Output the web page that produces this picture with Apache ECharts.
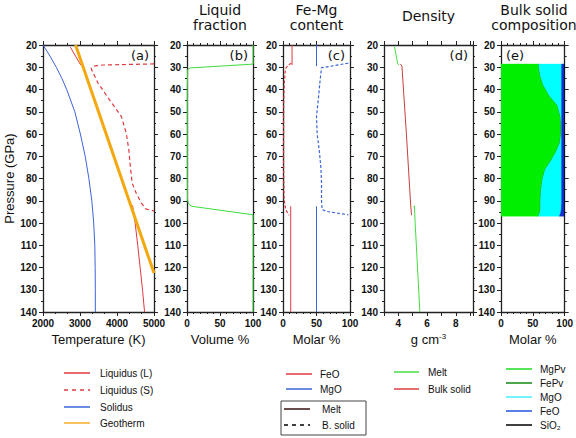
<!DOCTYPE html>
<html>
<head>
    <meta charset="utf-8"/>
    <title>Melting profiles</title>
    <style>
        html, body { margin: 0; padding: 0; background: #fff; }
        #main { width: 576px; height: 438px; }
    </style>
</head>
<body>
<div id="main"></div>
<script src="https://cdn.jsdelivr.net/npm/echarts@6/dist/echarts.min.js"></script>
<script>
// ---- data (pressure in GPa) ----
// (a) temperatures
var solidusP = [20, 25, 30, 35, 40, 50, 60, 70, 80, 90, 100, 110, 120, 130, 140];
var solidusT = [2000, 2190, 2360, 2510, 2640, 2860, 3010, 3140, 3240, 3320, 3370, 3400, 3410, 3414, 3415];
var liqL1P = [21, 29];
var liqL1T = [2740, 3020];
var liqL2P = [92, 100, 110, 120, 130, 140];
var liqL2T = [4420, 4490, 4560, 4625, 4690, 4745];
var liqSP = [28.5, 29, 29.4, 30.5, 32.4, 37.2, 44.7, 52.2, 59.7, 67.1, 74.6, 82.1, 86.6, 91.1, 93.8, 94.4, 94.6];
var liqST = [5000, 3620, 3400, 3300, 3350, 3490, 3800, 4120, 4250, 4320, 4360, 4410, 4520, 4660, 4790, 4970, 5000];
var geoP = [20, 122.5];
var geoT = [2880, 5000];

// (b) liquid fraction
var liqFracP = [20, 28.6, 30.3, 31, 40, 60, 80, 89.6, 91.5, 92.5, 96.3, 140];
var liqFracV = [100, 100, 5, 1, 0.5, 0.5, 0.5, 0.8, 2.5, 7.5, 100, 100];

// (c) Fe-Mg content
var feoMelt1P = [20, 29], feoMelt1X = [13.5, 13.5];
var feoMelt2P = [92.5, 140], feoMelt2X = [11.5, 11.5];
var mgoMelt1P = [20, 29.5], mgoMelt1X = [50, 50];
var mgoMelt2P = [92.5, 140], mgoMelt2X = [50, 50];
var feoSolP = [28.2, 29, 30.5, 33, 37, 45, 60, 75, 88, 91, 94, 95.5, 96.5];
var feoSolX = [12.5, 8, 4, 3, 2, 1.2, 1, 1, 1.5, 2.5, 4, 7, 9];
var mgoSolP = [28.2, 28.8, 29.5, 30.2, 37, 45, 52, 60, 67, 75, 82, 90, 94, 94.8, 96.3];
var mgoSolX = [97.5, 85, 72, 57.5, 55, 52.5, 50, 51, 54, 56.5, 57.5, 57.5, 58.5, 65, 97.5];

// (d) density
var rhoMelt1P = [20.7, 28.2, 29], rhoMelt1X = [3.73, 3.95, 4.05];
var rhoMelt2P = [92.8, 92.3, 100, 140], rhoMelt2X = [5.06, 5.12, 5.17, 5.5];
var rhoSolP = [28.5, 29.5, 60, 92, 96.5], rhoSolX = [4.14, 4.25, 4.56, 4.86, 4.92];

// (e) bulk solid composition (molar %)
var compP = [28.5, 30, 34, 38, 43, 47, 52, 56, 60, 64, 68, 72, 76, 80, 85, 90, 94, 96, 97];
var mgpv  = [59, 59, 61.5, 66, 76, 88, 93, 94, 94, 92, 86, 78, 69, 65, 62.5, 61.5, 61.5, 60, 58];
var fepv  = [0.5, 0.5, 0.5, 0.5, 0.5, 0.5, 0.5, 0.5, 0.5, 0.5, 0.5, 0.5, 0.5, 0.5, 0.5, 0.5, 0.5, 0.5, 0.5];
var feo   = [4.5, 4.5, 4.5, 4.5, 4.5, 4.5, 4.5, 4.5, 4.5, 4.5, 4.5, 4.5, 4.5, 4.5, 4.5, 4.5, 5, 6.5, 8];
var sio2  = [0.5, 0.5, 0.5, 0.5, 0.5, 0.5, 0.5, 0.5, 0.5, 0.5, 0.5, 0.5, 0.5, 0.5, 0.5, 0.5, 0.5, 0.5, 0.5];

// tick labels / texts
var pTicks = [20, 140, 10];
var titles = [['Liquid', 'fraction'], ['Fe-Mg', 'content'], ['Density'], ['Bulk solid', 'composition']];
var panelTags = ['(a)', '(b)', '(c)', '(d)', '(e)'];

var legA = [['Liquidus (L)', '#e0393e', 'solid'], ['Liquidus (S)', '#e0393e', 'dashed'], ['Solidus', '#3b64d8', 'solid'], ['Geotherm', '#f4b02a', 'solid']];
var legC = [['FeO', '#e0393e', 'solid'], ['MgO', '#3b64d8', 'solid']];
var legCbox = [['Melt', '#3a1010', 'solid'], ['B. solid', '#000', 'dashed']];
var legD = [['Melt', '#44dd44', 'solid'], ['Bulk solid', '#d9403e', 'solid']];
var legE = [['MgPv', '#22dd22', 'solid'], ['FePv', '#118811', 'solid'], ['MgO', '#44eeff', 'solid'], ['FeO', '#2255dd', 'solid'], ['SiO\u2082', '#000', 'solid']];

function pairs(xs, ps) {
    var out = [];
    for (var i = 0; i < xs.length; i++) out.push([xs[i], ps[i]]);
    return out;
}

// grid layout
var grids = [
    {left: 43, top: 45, width: 111, height: 267},
    {left: 187, top: 45, width: 66, height: 267},
    {left: 283, top: 45, width: 67, height: 267},
    {left: 384, top: 45, width: 89, height: 267},
    {left: 501, top: 45, width: 66, height: 267}
];

var xRanges = [
    {min: 2000, max: 5000, interval: 1000, minor: 3, name: 'Temperature (K)'},
    {min: 0, max: 100, interval: 50, minor: 5, name: 'Volume %'},
    {min: 0, max: 100, interval: 50, minor: 5, name: 'Molar %'},
    {min: 3, max: 9.2, interval: 1, minor: 1, name: 'g cm{sup|-3}'},
    {min: 0, max: 100, interval: 50, minor: 5, name: 'Molar %'}
];

var lineCol = '#222';
var labelFont = {fontSize: 10, fontWeight: 'bold', color: '#111', fontFamily: 'Liberation Sans'};

var xAxes = [], yAxes = [];
for (var i = 0; i < 5; i++) {
    var r = xRanges[i];
    var lab = Object.assign({margin: 6, formatter: function (v) { return String(v); }}, labelFont);
    if (i === 3) {
        lab.formatter = function (v) { return (v % 2 === 0 && v >= 4 && v <= 8) ? String(v) : ''; };
    }
    xAxes.push({
        type: 'value', gridIndex: i, position: 'bottom',
        min: r.min, max: r.max, interval: r.interval,
        name: r.name, nameLocation: 'middle', nameGap: 20,
        nameTextStyle: {fontSize: 13, fontFamily: 'Liberation Sans', color: '#111',
            rich: {sup: {fontSize: 8, fontFamily: 'Liberation Sans', verticalAlign: 'top', padding: [0, 0, 6, 0]}}},
        axisLine: {show: true, onZero: false, lineStyle: {color: lineCol, width: 1.3}},
        axisTick: {show: true, length: 4, lineStyle: {color: lineCol}},
        minorTick: {show: r.minor > 1, splitNumber: r.minor, length: 2, lineStyle: {color: lineCol}},
        splitLine: {show: false},
        axisLabel: lab
    });
    yAxes.push({
        type: 'value', gridIndex: i, position: 'left', inverse: true,
        min: pTicks[0], max: pTicks[1], interval: pTicks[2],
        name: i === 0 ? 'Pressure (GPa)' : '', nameLocation: 'middle', nameGap: 25,
        nameTextStyle: {fontSize: 13, fontFamily: 'Liberation Sans', color: '#111'},
        axisLine: {show: true, onZero: false, lineStyle: {color: lineCol, width: 1.3}},
        axisTick: {show: true, length: 4, lineStyle: {color: lineCol}},
        minorTick: {show: true, splitNumber: 2, length: 2, lineStyle: {color: lineCol}},
        splitLine: {show: false},
        axisLabel: Object.assign({margin: 6}, labelFont)
    });
}
// top and right frame axes (no labels)
for (var j = 0; j < 5; j++) {
    var rr = xRanges[j];
    xAxes.push({
        type: 'value', gridIndex: j, position: 'top',
        min: rr.min, max: rr.max, interval: rr.interval,
        axisLine: {show: true, onZero: false, lineStyle: {color: lineCol, width: 1.3}},
        axisTick: {show: true, length: 4, lineStyle: {color: lineCol}},
        minorTick: {show: rr.minor > 1, splitNumber: rr.minor, length: 2, lineStyle: {color: lineCol}},
        splitLine: {show: false}, axisLabel: {show: false}
    });
    yAxes.push({
        type: 'value', gridIndex: j, position: 'right', inverse: true,
        min: pTicks[0], max: pTicks[1], interval: pTicks[2],
        axisLine: {show: true, onZero: false, lineStyle: {color: lineCol, width: 1.3}},
        axisTick: {show: true, length: 4, lineStyle: {color: lineCol}},
        minorTick: {show: true, splitNumber: 2, length: 2, lineStyle: {color: lineCol}},
        splitLine: {show: false}, axisLabel: {show: false}
    });
}

function line(gi, data, color, width, type, z) {
    return {
        type: 'line', xAxisIndex: gi, yAxisIndex: gi, data: data,
        symbol: 'none', silent: true, animation: false, z: z || 2,
        lineStyle: {color: color, width: width, type: type || 'solid', dashOffset: 0},
        clip: true
    };
}

var dash = [4, 3];
var series = [
    line(0, pairs(solidusT, solidusP), '#3b64d8', 1),
    line(0, pairs(liqL1T, liqL1P), '#e0393e', 1),
    line(0, pairs(liqL2T, liqL2P), '#e0393e', 1),
    line(0, pairs(liqST, liqSP), '#e0393e', 1.2, dash),
    line(0, pairs(geoT, geoP), '#f4a80f', 3, 'solid', 3),

    line(1, pairs(liqFracV, liqFracP), '#3ddc3d', 1, 'solid', 3),

    line(2, pairs(feoMelt1X, feoMelt1P), '#e0393e', 1),
    line(2, pairs(feoMelt2X, feoMelt2P), '#e0393e', 1),
    line(2, pairs(mgoMelt1X, mgoMelt1P), '#3b64d8', 1),
    line(2, pairs(mgoMelt2X, mgoMelt2P), '#3b64d8', 1),
    line(2, pairs(feoSolX, feoSolP), '#e0393e', 1.2, [3, 2]),
    line(2, pairs(mgoSolX, mgoSolP), '#3b64d8', 1.2, [3, 2]),

    line(3, pairs(rhoMelt1X, rhoMelt1P), '#44dd44', 1),
    line(3, pairs(rhoMelt2X, rhoMelt2P), '#44dd44', 1),
    line(3, pairs(rhoSolX, rhoSolP), '#c8403e', 1)
];

// (e) stacked bands built from cumulative sums
var comps = [[mgpv, '#00ee00'], [fepv, '#118811'], [null, '#00ffff'], [feo, '#1133cc'], [sio2, '#000000']];
var cum = compP.map(function () { return 0; });
var bounds = [];
for (var k = 0; k < comps.length; k++) {
    var vals = comps[k][0];
    if (vals === null) {
        // MgO fills the remainder
        vals = compP.map(function (_, n) { return 100 - mgpv[n] - fepv[n] - feo[n] - sio2[n]; });
    }
    var lo = cum.slice();
    cum = cum.map(function (c, n) { return c + vals[n]; });
    bounds.push([lo, cum.slice(), comps[k][1]]);
}
bounds.forEach(function (b) {
    series.push({
        type: 'custom', xAxisIndex: 4, yAxisIndex: 4, silent: true, animation: false, clip: true,
        data: [[50, 60]],
        renderItem: function (params, api) {
            var pts = [];
            for (var n = 0; n < compP.length; n++) pts.push(api.coord([b[1][n], compP[n]]));
            for (var m = compP.length - 1; m >= 0; m--) pts.push(api.coord([b[0][m], compP[m]]));
            return {type: 'polygon', shape: {points: pts}, style: {fill: b[2], stroke: b[2], lineWidth: 0.3}};
        }
    });
});

// titles, panel tags and legends as graphics
var gfx = [];
var titleCx = [220, 316.5, 428.5, 534];
titles.forEach(function (t, i) {
    var top = t.length === 1 ? 16 : 10;
    t.forEach(function (s, n) {
        gfx.push({type: 'text', x: titleCx[i], y: top + n * 15,
            style: {text: s, align: 'center', verticalAlign: 'middle',
                font: '14px "DejaVu Sans"', fill: '#111'}});
    });
});
panelTags.forEach(function (t, i) {
    var g = grids[i];
    var right = i !== 4;
    gfx.push({type: 'text', x: right ? g.left + g.width - 5 : g.left + 5, y: 55,
        style: {text: t, align: right ? 'right' : 'left', verticalAlign: 'middle',
            font: '13px "DejaVu Sans"', fill: '#111'}, z: 10});
});

function legendBlock(items, x0, x1, tx, ys) {
    items.forEach(function (it, n) {
        gfx.push({type: 'line', shape: {x1: x0, y1: ys[n], x2: x1, y2: ys[n]},
            style: {stroke: it[1], lineWidth: 1.5, lineDash: it[2] === 'dashed' ? [4, 4] : null}});
        gfx.push({type: 'text', x: tx, y: ys[n],
            style: {text: it[0], verticalAlign: 'middle', font: '10px "Liberation Sans"', fill: '#111'}});
    });
}
legendBlock(legA, 64, 90, 100, [373, 390, 407, 423]);
legendBlock(legC, 286, 312, 320, [374, 389]);
gfx.push({type: 'rect', shape: {x: 281, y: 401, width: 85, height: 34},
    style: {fill: 'none', stroke: '#444', lineWidth: 1}});
legendBlock(legCbox, 284, 310, 322, [409, 425]);
legendBlock(legD, 394, 419, 428, [372, 389]);
legendBlock(legE, 506, 532, 540, [369, 383, 397, 411, 425]);

var chart = echarts.init(document.getElementById('main'), null, {renderer: 'svg'});
chart.setOption({
    backgroundColor: '#fff',
    animation: false,
    grid: grids,
    xAxis: xAxes,
    yAxis: yAxes,
    series: series,
    graphic: gfx
});
</script>
</body>
</html>
